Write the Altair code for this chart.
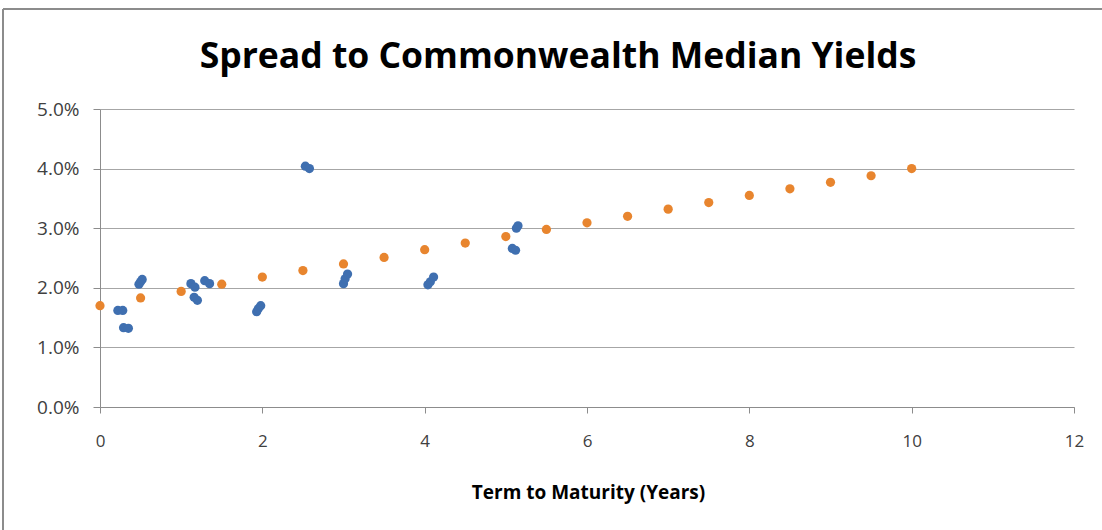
import altair as alt
import pandas as pd

# Median Commonwealth yield spread curve (term in years, spread in %)
median_terms = [0, 0.5, 1, 1.5, 2, 2.5, 3, 3.5, 4, 4.5, 5, 5.5, 6, 6.5, 7, 7.5, 8, 8.5, 9, 9.5, 10]
median_spreads = [1.70, 1.83, 1.94, 2.06, 2.18, 2.29, 2.40, 2.51, 2.64, 2.75, 2.86, 2.98,
                  3.09, 3.20, 3.32, 3.43, 3.55, 3.66, 3.77, 3.88, 4.00]

# Individual bond spreads (term in years, spread in %)
bond_terms = [0.22, 0.28, 0.29, 0.35, 0.48, 0.50, 0.52, 1.12, 1.17, 1.16, 1.20, 1.29, 1.35,
              1.93, 1.95, 1.98, 2.53, 2.58, 3.00, 3.02, 3.05, 4.04, 4.07, 4.11,
              5.13, 5.15, 5.08, 5.12]
bond_spreads = [1.62, 1.62, 1.33, 1.32, 2.06, 2.10, 2.14, 2.07, 2.01, 1.84, 1.79, 2.12, 2.07,
                1.60, 1.65, 1.70, 4.04, 4.00, 2.07, 2.15, 2.23, 2.05, 2.10, 2.18,
                3.00, 3.04, 2.66, 2.63]

x_ticks = [0, 2, 4, 6, 8, 10, 12]
y_ticks = [0, 1, 2, 3, 4, 5]

median_df = pd.DataFrame({"term": median_terms, "spread": [v / 100 for v in median_spreads]})
bond_df = pd.DataFrame({"term": bond_terms, "spread": [v / 100 for v in bond_spreads]})

W, H = 974, 298
LEFT, TOP = 100, 109
FONT = "Open Sans"

x_scale = alt.Scale(domain=[0, 12], nice=False, zero=False)
y_scale = alt.Scale(domain=[0, 0.05], nice=False)

x_axis = alt.Axis(values=x_ticks, format="d", title="Term to Maturity (Years)", grid=False,
                  labelFont=FONT, labelFontSize=17, labelColor="#404040", labelFlush=False,
                  labelPadding=20, tickSize=6, tickColor="#8c8c8c",
                  domainColor="#8c8c8c", titleFont=FONT, titleFontSize=19,
                  titleFontWeight="bold", titleColor="#000000",
                  titleX=488, titleY=85, titleBaseline="middle")
y_axis = alt.Axis(values=[v / 100 for v in y_ticks], format=".1%", title=None,
                  labelFont=FONT, labelFontSize=19, labelColor="#404040", labelFlush=False,
                  labelPadding=14, tickSize=7, tickColor="#8c8c8c",
                  domainColor="#8c8c8c", gridColor="#a6a6a6", gridWidth=1.2)

bonds = alt.Chart(bond_df).mark_circle(size=85, opacity=1, color="#3f6fb0").encode(
    x=alt.X("term:Q", scale=x_scale, axis=x_axis),
    y=alt.Y("spread:Q", scale=y_scale, axis=y_axis),
)

medians = alt.Chart(median_df).mark_circle(size=85, opacity=1, color="#e8852e").encode(
    x=alt.X("term:Q", scale=x_scale),
    y=alt.Y("spread:Q", scale=y_scale),
)

# Outer frame of the chart area (left and top edges)
frame_left = alt.Chart(pd.DataFrame({"k": [0]})).mark_rule(color="#8c8c8c", strokeWidth=2).encode(
    x=alt.value(3 - LEFT), y=alt.value(9 - TOP), y2=alt.value(530 - TOP)
)
frame_top = alt.Chart(pd.DataFrame({"k": [0]})).mark_rule(color="#8c8c8c", strokeWidth=2).encode(
    x=alt.value(3 - LEFT), x2=alt.value(1102 - LEFT), y=alt.value(9 - TOP)
)

title = alt.Chart(pd.DataFrame({"t": ["Spread to Commonwealth Median Yields"]})).mark_text(
    font=FONT, fontSize=35.5, fontWeight="bold", color="#000000",
    align="center", baseline="alphabetic"
).encode(x=alt.value(558 - LEFT), y=alt.value(68 - TOP), text="t:N")

chart = alt.layer(frame_left, frame_top, bonds, medians, title).properties(
    width=W, height=H,
    padding={"left": LEFT, "top": TOP, "right": 1102 - LEFT - W, "bottom": 530 - TOP - H},
    autosize=alt.AutoSizeParams(type="none"),
    background="#ffffff",
).configure_view(stroke=None)

chart.save("out.html", embed_options={"renderer": "svg", "actions": False})
